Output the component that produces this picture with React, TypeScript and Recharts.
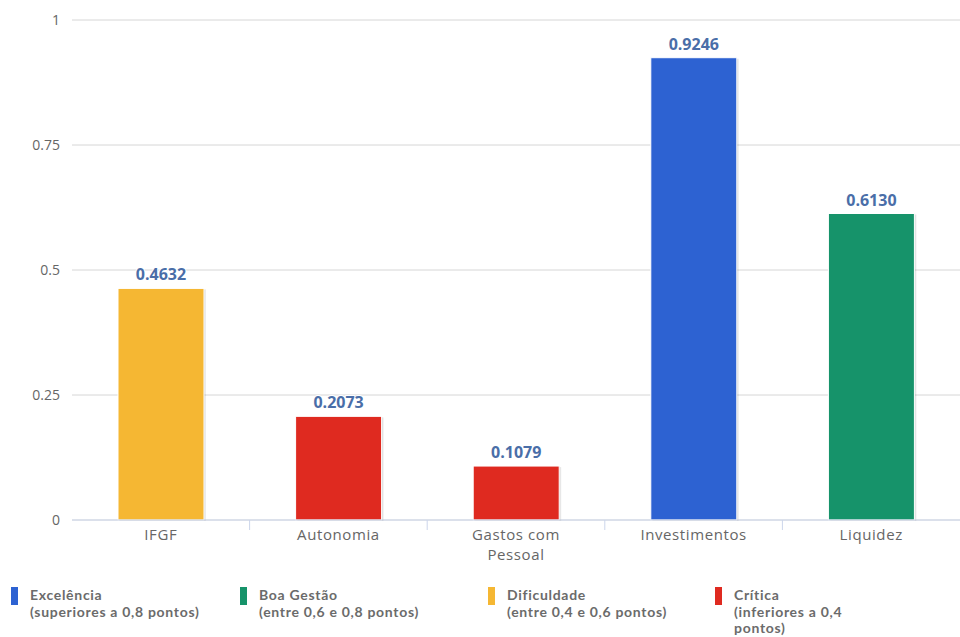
import React from 'react';
import { BarChart, Bar, XAxis, YAxis, CartesianGrid, LabelList, Text } from 'recharts';

// indicator names, scores and the band each score falls in
const categories = ['IFGF', 'Autonomia', 'Gastos com Pessoal', 'Investimentos', 'Liquidez'];
const scores = [0.4632, 0.2073, 0.1079, 0.9246, 0.613];
const bands = ['dificuldade', 'critica', 'critica', 'excelencia', 'boa'];

const yTicks = [0, 0.25, 0.5, 0.75, 1];

const legendKeys = ['excelencia', 'boa', 'dificuldade', 'critica'];
const legendLabels = [
    ['Excelência', '(superiores a 0,8 pontos)'],
    ['Boa Gestão', '(entre 0,6 e 0,8 pontos)'],
    ['Dificuldade', '(entre 0,4 e 0,6 pontos)'],
    ['Crítica', '(inferiores a 0,4', 'pontos)'],
];

const bandColors: Record<string, string> = {
    excelencia: '#2d62d2',
    boa: '#16936a',
    dificuldade: '#f5b733',
    critica: '#df2a20',
};

const FONT = '"Open Sans", sans-serif';
const LEGEND_FONT = 'Lato, "Open Sans", sans-serif';
const legendX = [11, 240, 488, 715];

const data = categories.map((name, i) => ({ name, value: scores[i], band: bands[i] }));

const BarShape = (props: any) => {
    const { x, y, width, height, payload } = props;
    if (height <= 0) return null;
    return (
        <g>
            <rect x={x + 2} y={y + 1} width={width} height={height} fill="#000" opacity={0.08} />
            <rect x={x + 1} y={y + 1} width={width} height={height} fill="#000" opacity={0.08} />
            <rect x={x} y={y} width={width} height={height} fill={bandColors[payload.band]} stroke="#fff" strokeWidth={1} />
        </g>
    );
};

const XTick = (props: any) => {
    const { x, y, payload, index } = props;
    const half = payload.offset || 88.8;
    return (
        <g>
            {index < categories.length - 1 && (
                <line x1={x + half} x2={x + half} y1={y} y2={y + 10} stroke="#ccd6eb" strokeWidth={1} />
            )}
            <Text
                x={x}
                y={y + 9}
                width={120}
                textAnchor="middle"
                verticalAnchor="start"
                fill="#666"
                fontSize={15}
                fontFamily={FONT}
                lineHeight={20}
                style={{ letterSpacing: '0.6px' }}
            >
                {payload.value}
            </Text>
        </g>
    );
};

const ValueLabel = (props: any) => {
    const { x, y, width, value } = props;
    return (
        <text
            x={x + width / 2}
            y={y - 8}
            textAnchor="middle"
            fontSize={16}
            fontWeight={700}
            fontFamily={FONT}
            fill="#4a6ea8"
            stroke="#fff"
            strokeWidth={2}
            strokeLinejoin="round"
            style={{ paintOrder: 'stroke' }}
        >
            {Number(value).toFixed(4)}
        </text>
    );
};

const LegendBox = () => (
    <div style={{ position: 'absolute', left: 0, top: 580, width: 960, height: 57 }}>
        {legendKeys.map((k, i) => (
            <div key={k} style={{ position: 'absolute', left: legendX[i], top: 7 }}>
                <div style={{ position: 'absolute', left: 0, top: 0, width: 7, height: 18, background: bandColors[k] }} />
                <div
                    style={{
                        position: 'absolute',
                        left: 19,
                        top: 0,
                        whiteSpace: 'nowrap',
                        fontFamily: LEGEND_FONT,
                        fontSize: 14,
                        fontWeight: 700,
                        letterSpacing: '0.7px',
                        lineHeight: '16.5px',
                        color: '#6b6b6b',
                        textAlign: 'left',
                    }}
                >
                    {legendLabels[i].map((line) => (
                        <div key={line}>{line}</div>
                    ))}
                </div>
            </div>
        ))}
    </div>
);

export default function App() {
    return (
        <div style={{ position: 'absolute', left: 0, top: 0, width: 960, height: 637, background: '#fff' }}>
            <BarChart width={960} height={637} data={data} margin={{ top: 20, right: 0, bottom: 87, left: 0 }}>
                <CartesianGrid vertical={false} stroke="#d6d6d6" />
                <XAxis
                    dataKey="name"
                    height={30}
                    axisLine={{ stroke: '#ccd6eb' }}
                    tickLine={false}
                    tickSize={0}
                    tickMargin={0}
                    interval={0}
                    tick={<XTick />}
                />
                <YAxis
                    width={72}
                    domain={[0, 1]}
                    ticks={yTicks}
                    axisLine={false}
                    tickLine={false}
                    tickSize={0}
                    tickMargin={12}
                    tick={{ fill: '#666', fontSize: 14, fontFamily: FONT }}
                />
                <Bar dataKey="value" barSize={86} shape={<BarShape />} isAnimationActive={false}>
                    <LabelList dataKey="value" content={<ValueLabel />} />
                </Bar>
            </BarChart>
            <LegendBox />
        </div>
    );
}
